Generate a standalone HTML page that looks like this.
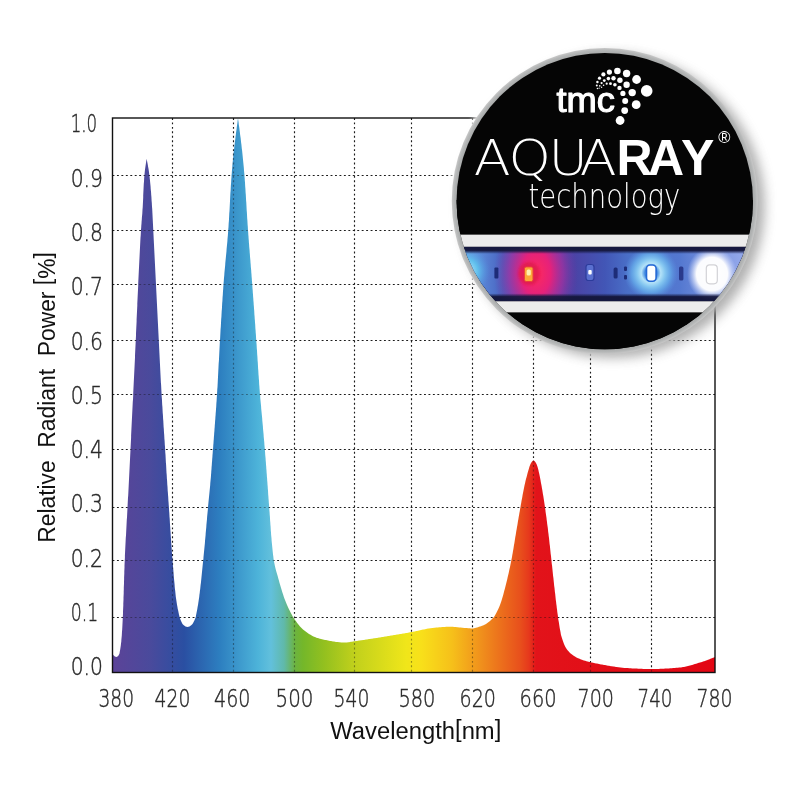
<!DOCTYPE html>
<html lang="en">
<head>
<meta charset="utf-8">
<title>AquaRay technology – spectrum</title>
<style>
html,body{margin:0;padding:0;background:#fff;}
svg{display:block;}
.tick{font-family:"DejaVu Sans Light","DejaVu Sans","Liberation Sans",sans-serif;font-weight:200;font-size:25px;fill:#2a2a2a;stroke:#2a2a2a;stroke-width:0.45px;}
.axl{font-family:"Liberation Sans",sans-serif;font-size:23px;fill:#111;white-space:pre;}
.thin{font-family:"DejaVu Sans Light","DejaVu Sans","Liberation Sans",sans-serif;font-weight:200;fill:#fff;}
.bold{font-family:"Liberation Sans",sans-serif;font-weight:700;fill:#fff;}
</style>
</head>
<body>
<svg width="800" height="800" viewBox="0 0 800 800">
<defs>
<linearGradient id="spec" gradientUnits="userSpaceOnUse" x1="112.5" y1="0" x2="715" y2="0">
<stop offset="0" stop-color="#5c4398"/>
<stop offset="0.0622" stop-color="#4a4a9c"/>
<stop offset="0.1187" stop-color="#2a4fa2"/>
<stop offset="0.1784" stop-color="#2d7fc0"/>
<stop offset="0.2415" stop-color="#4db3d9"/>
<stop offset="0.2630" stop-color="#62c0dc"/>
<stop offset="0.2846" stop-color="#60b9aa"/>
<stop offset="0.3030" stop-color="#6cb340"/>
<stop offset="0.3160" stop-color="#74b72a"/>
<stop offset="0.3510" stop-color="#93c01f"/>
<stop offset="0.4008" stop-color="#c0d01c"/>
<stop offset="0.488" stop-color="#f0e61a"/>
<stop offset="0.512" stop-color="#f8e01a"/>
<stop offset="0.5635" stop-color="#f6c01a"/>
<stop offset="0.6116" stop-color="#f0901c"/>
<stop offset="0.6763" stop-color="#e8501c"/>
<stop offset="0.6913" stop-color="#e6381c"/>
<stop offset="0.7030" stop-color="#e2131a"/>
<stop offset="1" stop-color="#e30613"/>
</linearGradient>
<clipPath id="circ"><circle cx="604.75" cy="201.1" r="148.2"/></clipPath>
<filter id="shadow" x="-20%" y="-20%" width="140%" height="140%"><feGaussianBlur stdDeviation="6"/></filter>
<filter id="b2" x="-50%" y="-50%" width="200%" height="200%"><feGaussianBlur stdDeviation="2"/></filter>
<filter id="b1" x="-50%" y="-50%" width="200%" height="200%"><feGaussianBlur stdDeviation="0.8"/></filter>
<radialGradient id="gRed"><stop offset="0" stop-color="#ff2a5a" stop-opacity="1"/><stop offset="0.35" stop-color="#ee1f78" stop-opacity="0.95"/><stop offset="0.65" stop-color="#b8289c" stop-opacity="0.6"/><stop offset="1" stop-color="#7030a0" stop-opacity="0"/></radialGradient>
<radialGradient id="gCyan"><stop offset="0" stop-color="#e0f6ff" stop-opacity="1"/><stop offset="0.22" stop-color="#3a84e0" stop-opacity="1"/><stop offset="0.36" stop-color="#b4e2f8" stop-opacity="1"/><stop offset="0.52" stop-color="#84c6f0" stop-opacity="1"/><stop offset="0.72" stop-color="#64a8e8" stop-opacity="0.85"/><stop offset="1" stop-color="#5a90e0" stop-opacity="0"/></radialGradient>
<radialGradient id="gWhite"><stop offset="0" stop-color="#ffffff" stop-opacity="1"/><stop offset="0.62" stop-color="#ffffff" stop-opacity="0.97"/><stop offset="1" stop-color="#d0dcff" stop-opacity="0"/></radialGradient>
<radialGradient id="gPale"><stop offset="0" stop-color="#c8f0ff" stop-opacity="1"/><stop offset="0.5" stop-color="#5fc4ee" stop-opacity="0.9"/><stop offset="1" stop-color="#4f90e0" stop-opacity="0"/></radialGradient>
<linearGradient id="strip" gradientUnits="userSpaceOnUse" x1="455" y1="0" x2="755" y2="0">
<stop offset="0" stop-color="#86b8ec"/><stop offset="0.09" stop-color="#5a86d6"/><stop offset="0.16" stop-color="#4862c0"/><stop offset="0.40" stop-color="#4a44a6"/><stop offset="0.50" stop-color="#4256b6"/><stop offset="0.58" stop-color="#4a70c8"/><stop offset="0.75" stop-color="#5478d0"/><stop offset="0.88" stop-color="#8098e2"/><stop offset="1" stop-color="#9cb0ee"/>
</linearGradient>
<radialGradient id="ring" gradientUnits="userSpaceOnUse" cx="604.75" cy="201.1" r="153"><stop offset="0.96" stop-color="#a4a6a6"/><stop offset="0.985" stop-color="#b4b6b6"/><stop offset="1" stop-color="#c8c8c8"/></radialGradient>
<linearGradient id="edgeT" x1="0" y1="0" x2="0" y2="1"><stop offset="0" stop-color="#15183f"/><stop offset="0.55" stop-color="#15183f" stop-opacity="0.9"/><stop offset="1" stop-color="#15183f" stop-opacity="0"/></linearGradient>
<linearGradient id="edgeB" x1="0" y1="1" x2="0" y2="0"><stop offset="0" stop-color="#15183f"/><stop offset="0.6" stop-color="#15183f" stop-opacity="0.9"/><stop offset="1" stop-color="#15183f" stop-opacity="0"/></linearGradient>
<clipPath id="stripclip"><rect x="440" y="247" width="340" height="54.3"/></clipPath>
<clipPath id="fillclip"><use href="#specpath"/></clipPath>
</defs>

<rect width="800" height="800" fill="#ffffff"/>

<!-- grid (under) -->
<g id="grid" stroke="#1c1c1c" stroke-width="1.15" stroke-dasharray="1.9 2.55" fill="none">
<line x1="172.5" y1="118" x2="172.5" y2="672.5"/>
<line x1="233.5" y1="118" x2="233.5" y2="672.5"/>
<line x1="294.5" y1="118" x2="294.5" y2="672.5"/>
<line x1="354.5" y1="118" x2="354.5" y2="672.5"/>
<line x1="411.5" y1="118" x2="411.5" y2="672.5"/>
<line x1="472.5" y1="118" x2="472.5" y2="672.5"/>
<line x1="533.5" y1="118" x2="533.5" y2="672.5"/>
<line x1="590.5" y1="118" x2="590.5" y2="672.5"/>
<line x1="651.5" y1="118" x2="651.5" y2="672.5"/>
<line x1="112.5" y1="175.5" x2="715" y2="175.5"/>
<line x1="112.5" y1="230.5" x2="715" y2="230.5"/>
<line x1="112.5" y1="284.5" x2="715" y2="284.5"/>
<line x1="112.5" y1="340.5" x2="715" y2="340.5"/>
<line x1="112.5" y1="394.5" x2="715" y2="394.5"/>
<line x1="112.5" y1="449.5" x2="715" y2="449.5"/>
<line x1="112.5" y1="507.5" x2="715" y2="507.5"/>
<line x1="112.5" y1="560.5" x2="715" y2="560.5"/>
<line x1="112.5" y1="617.5" x2="715" y2="617.5"/>
</g>
<!-- spectrum fill -->
<path id="specpath" fill="url(#spec)" d="M112.5,672.5 L112.5,654.0 113.5,655.3 114.5,656.2 115.5,656.8 116.5,657.0 117.5,656.5 118.5,655.6 119.5,653.5 119.5,653.5 119.8,651.5 120.2,649.5 120.5,647.5 120.8,645.5 121.0,643.5 121.3,641.5 121.4,639.5 121.6,637.5 121.8,635.5 121.9,633.5 122.0,631.5 122.2,629.5 122.3,627.5 122.4,625.5 122.5,623.5 122.6,621.5 122.7,619.5 122.8,617.5 122.9,615.5 123.0,613.5 123.0,611.5 123.1,609.5 123.2,607.5 123.3,605.5 123.3,603.5 123.4,601.5 123.5,599.5 123.5,597.5 123.6,595.5 123.7,593.5 123.7,591.5 123.8,589.5 123.8,587.5 123.9,585.5 124.0,583.5 124.0,581.5 124.1,579.5 124.1,577.5 124.2,575.5 124.3,573.5 124.3,571.5 124.4,569.5 124.5,567.5 124.5,565.5 124.6,563.5 124.7,561.5 124.8,559.5 124.9,557.5 124.9,555.5 125.0,553.5 125.1,551.5 125.2,549.5 125.3,547.5 125.4,545.5 125.5,543.5 125.6,541.5 125.7,539.5 125.8,537.5 126.0,535.5 126.1,533.5 126.2,531.5 126.3,529.5 126.4,527.5 126.5,525.5 126.6,523.5 126.7,521.5 126.8,519.5 127.0,517.5 127.1,515.5 127.2,513.5 127.3,511.5 127.4,509.5 127.5,507.5 127.6,505.5 127.7,503.5 127.8,501.5 127.9,499.5 128.0,497.5 128.2,495.5 128.3,493.5 128.4,491.5 128.5,489.5 128.6,487.5 128.7,485.5 128.8,483.5 128.9,481.5 129.0,479.5 129.1,477.5 129.2,475.5 129.3,473.5 129.4,471.5 129.5,469.5 129.6,467.5 129.7,465.5 129.8,463.5 129.9,461.5 130.0,459.5 130.1,457.5 130.2,455.5 130.3,453.5 130.4,451.5 130.5,449.5 130.6,447.5 130.7,445.5 130.8,443.5 130.9,441.5 131.0,439.5 131.1,437.5 131.1,435.5 131.2,433.5 131.3,431.5 131.4,429.5 131.5,427.5 131.6,425.5 131.7,423.5 131.8,421.5 131.9,419.5 132.0,417.5 132.1,415.5 132.2,413.5 132.3,411.5 132.4,409.5 132.5,407.5 132.6,405.5 132.7,403.5 132.8,401.5 133.0,399.5 133.1,397.5 133.2,395.5 133.2,393.5 133.3,391.5 133.4,389.5 133.5,387.5 133.6,385.5 133.7,383.5 133.8,381.5 133.9,379.5 134.0,377.5 134.1,375.5 134.2,373.5 134.3,371.5 134.4,369.5 134.5,367.5 134.6,365.5 134.7,363.5 134.8,361.5 134.9,359.5 135.0,357.5 135.0,355.5 135.1,353.5 135.2,351.5 135.3,349.5 135.4,347.5 135.5,345.5 135.6,343.5 135.7,341.5 135.8,339.5 135.9,337.5 136.0,335.5 136.0,333.5 136.1,331.5 136.2,329.5 136.3,327.5 136.4,325.5 136.5,323.5 136.6,321.5 136.6,319.5 136.7,317.5 136.8,315.5 136.9,313.5 137.0,311.5 137.1,309.5 137.2,307.5 137.3,305.5 137.3,303.5 137.4,301.5 137.5,299.5 137.6,297.5 137.7,295.5 137.8,293.5 137.9,291.5 138.0,289.5 138.1,287.5 138.2,285.5 138.2,283.5 138.3,281.5 138.4,279.5 138.5,277.5 138.6,275.5 138.7,273.5 138.8,271.5 138.9,269.5 139.0,267.5 139.1,265.5 139.2,263.5 139.3,261.5 139.4,259.5 139.5,257.5 139.6,255.5 139.7,253.5 139.8,251.5 139.9,249.5 140.0,247.5 140.1,245.5 140.2,243.5 140.3,241.5 140.4,239.5 140.5,237.5 140.7,235.5 140.8,233.5 140.9,231.5 141.0,229.5 141.2,227.5 141.3,225.5 141.5,223.5 141.6,221.5 141.8,219.5 141.9,217.5 142.1,215.5 142.3,213.5 142.4,211.5 142.5,209.5 142.7,207.5 142.8,205.5 142.9,203.5 143.0,201.5 143.1,199.5 143.2,197.5 143.2,195.5 143.3,193.5 143.4,191.5 143.5,189.5 143.6,187.5 143.7,185.5 143.8,183.5 144.0,181.5 144.1,179.5 144.2,177.5 144.4,175.5 144.6,173.5 144.8,171.5 145.0,169.5 145.3,167.5 145.6,165.5 145.9,163.5 146.2,161.5 146.5,159.5 146.6,158.8 146.6,158.8 147.0,160.8 147.4,162.8 147.8,164.8 148.1,166.8 148.5,168.8 148.8,170.8 149.1,172.8 149.3,174.8 149.6,176.8 149.8,178.8 150.0,180.8 150.2,182.8 150.4,184.8 150.6,186.8 150.7,188.8 150.9,190.8 151.1,192.8 151.2,194.8 151.4,196.8 151.5,198.8 151.6,200.8 151.8,202.8 151.9,204.8 152.0,206.8 152.2,208.8 152.3,210.8 152.4,212.8 152.5,214.8 152.6,216.8 152.7,218.8 152.8,220.8 152.9,222.8 153.0,224.8 153.1,226.8 153.2,228.8 153.3,230.8 153.4,232.8 153.5,234.8 153.6,236.8 153.7,238.8 153.8,240.8 153.9,242.8 154.0,244.8 154.1,246.8 154.2,248.8 154.3,250.8 154.4,252.8 154.5,254.8 154.6,256.8 154.7,258.8 154.8,260.8 154.9,262.8 155.0,264.8 155.1,266.8 155.2,268.8 155.3,270.8 155.4,272.8 155.5,274.8 155.6,276.8 155.7,278.8 155.8,280.8 155.9,282.8 156.0,284.8 156.1,286.8 156.2,288.8 156.3,290.8 156.4,292.8 156.5,294.8 156.6,296.8 156.7,298.8 156.8,300.8 156.9,302.8 157.0,304.8 157.1,306.8 157.2,308.8 157.3,310.8 157.4,312.8 157.5,314.8 157.6,316.8 157.7,318.8 157.8,320.8 157.9,322.8 158.0,324.8 158.1,326.8 158.2,328.8 158.3,330.8 158.4,332.8 158.5,334.8 158.6,336.8 158.7,338.8 158.8,340.8 158.9,342.8 159.0,344.8 159.1,346.8 159.2,348.8 159.3,350.8 159.4,352.8 159.5,354.8 159.6,356.8 159.7,358.8 159.8,360.8 159.9,362.8 160.0,364.8 160.1,366.8 160.2,368.8 160.3,370.8 160.4,372.8 160.5,374.8 160.6,376.8 160.7,378.8 160.8,380.8 160.9,382.8 161.1,384.8 161.2,386.8 161.3,388.8 161.4,390.8 161.5,392.8 161.6,394.8 161.7,396.8 161.9,398.8 162.0,400.8 162.1,402.8 162.2,404.8 162.4,406.8 162.5,408.8 162.6,410.8 162.7,412.8 162.9,414.8 163.0,416.8 163.1,418.8 163.3,420.8 163.4,422.8 163.5,424.8 163.6,426.8 163.8,428.8 163.9,430.8 164.0,432.8 164.2,434.8 164.3,436.8 164.4,438.8 164.6,440.8 164.7,442.8 164.8,444.8 165.0,446.8 165.1,448.8 165.2,450.8 165.3,452.8 165.5,454.8 165.6,456.8 165.7,458.8 165.8,460.8 165.9,462.8 166.1,464.8 166.2,466.8 166.3,468.8 166.4,470.8 166.5,472.8 166.7,474.8 166.8,476.8 166.9,478.8 167.1,480.8 167.2,482.8 167.3,484.8 167.5,486.8 167.6,488.8 167.7,490.8 167.9,492.8 168.0,494.8 168.2,496.8 168.3,498.8 168.4,500.8 168.6,502.8 168.7,504.8 168.9,506.8 169.0,508.8 169.1,510.8 169.3,512.8 169.4,514.8 169.5,516.8 169.7,518.8 169.8,520.8 169.9,522.8 170.0,524.8 170.2,526.8 170.3,528.8 170.4,530.8 170.6,532.8 170.7,534.8 170.8,536.8 171.0,538.8 171.1,540.8 171.2,542.8 171.4,544.8 171.5,546.8 171.7,548.8 171.8,550.8 171.9,552.8 172.1,554.8 172.2,556.8 172.4,558.8 172.6,560.8 172.7,562.8 172.9,564.8 173.0,566.8 173.2,568.8 173.4,570.8 173.5,572.8 173.7,574.8 173.8,576.8 174.0,578.8 174.2,580.8 174.4,582.8 174.6,584.8 174.7,586.8 174.9,588.8 175.2,590.8 175.4,592.8 175.6,594.8 175.8,596.8 176.1,598.8 176.4,600.8 176.7,602.8 177.0,604.8 177.4,606.8 177.7,608.8 178.2,610.8 178.6,612.8 179.0,614.8 179.5,616.8 179.5,617.0 179.5,617.0 180.5,619.7 181.5,622.1 182.5,623.9 183.5,624.9 184.5,625.8 185.5,626.4 186.5,626.8 187.5,627.0 188.5,626.8 189.5,626.4 190.5,625.7 191.5,624.9 192.5,624.0 193.5,622.3 194.5,620.2 195.5,617.7 195.8,617.0 195.8,617.0 196.1,615.0 196.5,613.0 196.9,611.0 197.3,609.0 197.6,607.0 198.0,605.0 198.3,603.0 198.6,601.0 198.9,599.0 199.2,597.0 199.4,595.0 199.7,593.0 199.9,591.0 200.2,589.0 200.4,587.0 200.6,585.0 200.9,583.0 201.1,581.0 201.3,579.0 201.5,577.0 201.7,575.0 201.9,573.0 202.1,571.0 202.3,569.0 202.5,567.0 202.7,565.0 202.9,563.0 203.1,561.0 203.4,559.0 203.5,557.0 203.7,555.0 203.9,553.0 204.1,551.0 204.3,549.0 204.5,547.0 204.7,545.0 204.9,543.0 205.0,541.0 205.2,539.0 205.4,537.0 205.6,535.0 205.7,533.0 205.9,531.0 206.1,529.0 206.3,527.0 206.4,525.0 206.6,523.0 206.8,521.0 207.0,519.0 207.1,517.0 207.3,515.0 207.5,513.0 207.7,511.0 207.9,509.0 208.0,507.0 208.2,505.0 208.4,503.0 208.6,501.0 208.8,499.0 209.0,497.0 209.2,495.0 209.4,493.0 209.6,491.0 209.8,489.0 210.0,487.0 210.2,485.0 210.3,483.0 210.5,481.0 210.7,479.0 210.9,477.0 211.0,475.0 211.2,473.0 211.3,471.0 211.5,469.0 211.6,467.0 211.8,465.0 211.9,463.0 212.1,461.0 212.2,459.0 212.4,457.0 212.5,455.0 212.7,453.0 212.8,451.0 213.0,449.0 213.2,447.0 213.3,445.0 213.5,443.0 213.6,441.0 213.8,439.0 213.9,437.0 214.1,435.0 214.2,433.0 214.4,431.0 214.5,429.0 214.7,427.0 214.8,425.0 215.0,423.0 215.1,421.0 215.3,419.0 215.4,417.0 215.6,415.0 215.7,413.0 215.9,411.0 216.0,409.0 216.2,407.0 216.3,405.0 216.4,403.0 216.6,401.0 216.7,399.0 216.8,397.0 217.0,395.0 217.1,393.0 217.2,391.0 217.3,389.0 217.5,387.0 217.6,385.0 217.7,383.0 217.8,381.0 217.9,379.0 218.0,377.0 218.1,375.0 218.2,373.0 218.3,371.0 218.4,369.0 218.5,367.0 218.6,365.0 218.7,363.0 218.9,361.0 219.0,359.0 219.1,357.0 219.2,355.0 219.3,353.0 219.4,351.0 219.5,349.0 219.6,347.0 219.7,345.0 219.8,343.0 219.9,341.0 220.1,339.0 220.2,337.0 220.3,335.0 220.4,333.0 220.5,331.0 220.6,329.0 220.8,327.0 220.9,325.0 221.0,323.0 221.1,321.0 221.2,319.0 221.4,317.0 221.5,315.0 221.6,313.0 221.7,311.0 221.9,309.0 222.0,307.0 222.1,305.0 222.2,303.0 222.4,301.0 222.5,299.0 222.6,297.0 222.8,295.0 222.9,293.0 223.0,291.0 223.2,289.0 223.3,287.0 223.5,285.0 223.6,283.0 223.8,281.0 223.9,279.0 224.1,277.0 224.3,275.0 224.4,273.0 224.6,271.0 224.8,269.0 225.0,267.0 225.2,265.0 225.3,263.0 225.5,261.0 225.7,259.0 225.9,257.0 226.1,255.0 226.3,253.0 226.5,251.0 226.6,249.0 226.8,247.0 227.0,245.0 227.2,243.0 227.4,241.0 227.5,239.0 227.7,237.0 227.9,235.0 228.0,233.0 228.2,231.0 228.3,229.0 228.5,227.0 228.6,225.0 228.7,223.0 228.9,221.0 229.0,219.0 229.1,217.0 229.2,215.0 229.3,213.0 229.5,211.0 229.6,209.0 229.7,207.0 229.8,205.0 229.9,203.0 230.0,201.0 230.1,199.0 230.2,197.0 230.3,195.0 230.4,193.0 230.6,191.0 230.7,189.0 230.8,187.0 230.9,185.0 231.1,183.0 231.2,181.0 231.3,179.0 231.5,177.0 231.6,175.0 231.8,173.0 231.9,171.0 232.1,169.0 232.3,167.0 232.4,165.0 232.6,163.0 232.8,161.0 233.0,159.0 233.2,157.0 233.4,155.0 233.6,153.0 233.8,151.0 234.1,149.0 234.3,147.0 234.5,145.0 234.8,143.0 235.0,141.0 235.3,139.0 235.5,137.0 235.8,135.0 236.0,133.0 236.3,131.0 236.6,129.0 236.8,127.0 237.1,125.0 237.4,123.0 237.6,121.0 237.9,119.0 238.0,118.5 238.0,118.5 238.3,120.5 238.6,122.5 238.8,124.5 239.1,126.5 239.4,128.5 239.6,130.5 239.9,132.5 240.1,134.5 240.4,136.5 240.7,138.5 240.9,140.5 241.1,142.5 241.4,144.5 241.6,146.5 241.8,148.5 242.1,150.5 242.3,152.5 242.5,154.5 242.7,156.5 242.9,158.5 243.1,160.5 243.3,162.5 243.5,164.5 243.7,166.5 243.9,168.5 244.0,170.5 244.2,172.5 244.4,174.5 244.5,176.5 244.7,178.5 244.8,180.5 245.0,182.5 245.1,184.5 245.2,186.5 245.4,188.5 245.5,190.5 245.6,192.5 245.8,194.5 245.9,196.5 246.0,198.5 246.1,200.5 246.3,202.5 246.4,204.5 246.5,206.5 246.6,208.5 246.7,210.5 246.9,212.5 247.0,214.5 247.1,216.5 247.2,218.5 247.4,220.5 247.5,222.5 247.6,224.5 247.8,226.5 247.9,228.5 248.0,230.5 248.2,232.5 248.3,234.5 248.5,236.5 248.6,238.5 248.8,240.5 248.9,242.5 249.1,244.5 249.2,246.5 249.4,248.5 249.6,250.5 249.7,252.5 249.9,254.5 250.0,256.5 250.2,258.5 250.4,260.5 250.5,262.5 250.7,264.5 250.8,266.5 251.0,268.5 251.2,270.5 251.3,272.5 251.5,274.5 251.6,276.5 251.8,278.5 251.9,280.5 252.1,282.5 252.2,284.5 252.4,286.5 252.5,288.5 252.7,290.5 252.8,292.5 253.0,294.5 253.1,296.5 253.3,298.5 253.4,300.5 253.6,302.5 253.7,304.5 253.9,306.5 254.0,308.5 254.2,310.5 254.3,312.5 254.4,314.5 254.6,316.5 254.7,318.5 254.9,320.5 255.0,322.5 255.2,324.5 255.3,326.5 255.4,328.5 255.6,330.5 255.7,332.5 255.9,334.5 256.0,336.5 256.1,338.5 256.3,340.5 256.4,342.5 256.6,344.5 256.7,346.5 256.8,348.5 257.0,350.5 257.1,352.5 257.2,354.5 257.4,356.5 257.5,358.5 257.6,360.5 257.8,362.5 257.9,364.5 258.0,366.5 258.1,368.5 258.3,370.5 258.4,372.5 258.5,374.5 258.7,376.5 258.8,378.5 259.0,380.5 259.1,382.5 259.2,384.5 259.4,386.5 259.5,388.5 259.7,390.5 259.8,392.5 260.0,394.5 260.2,396.5 260.3,398.5 260.5,400.5 260.7,402.5 260.9,404.5 261.1,406.5 261.2,408.5 261.4,410.5 261.6,412.5 261.8,414.5 262.0,416.5 262.2,418.5 262.3,420.5 262.5,422.5 262.7,424.5 262.9,426.5 263.0,428.5 263.2,430.5 263.4,432.5 263.6,434.5 263.7,436.5 263.9,438.5 264.1,440.5 264.3,442.5 264.4,444.5 264.6,446.5 264.8,448.5 264.9,450.5 265.1,452.5 265.2,454.5 265.4,456.5 265.6,458.5 265.7,460.5 265.9,462.5 266.0,464.5 266.2,466.5 266.3,468.5 266.5,470.5 266.6,472.5 266.8,474.5 266.9,476.5 267.1,478.5 267.2,480.5 267.4,482.5 267.5,484.5 267.7,486.5 267.8,488.5 268.0,490.5 268.1,492.5 268.2,494.5 268.4,496.5 268.5,498.5 268.7,500.5 268.8,502.5 269.0,504.5 269.1,506.5 269.3,508.5 269.4,510.5 269.6,512.5 269.7,514.5 269.9,516.5 270.0,518.5 270.1,520.5 270.3,522.5 270.4,524.5 270.6,526.5 270.7,528.5 270.8,530.5 271.0,532.5 271.1,534.5 271.3,536.5 271.5,538.5 271.6,540.5 271.8,542.5 272.0,544.5 272.2,546.5 272.4,548.5 272.6,550.5 272.8,552.5 273.0,554.5 273.3,556.5 273.5,558.5 273.8,560.5 274.2,562.5 274.6,564.5 275.0,566.5 275.5,568.5 276.0,570.5 276.6,572.5 277.2,574.5 277.8,576.5 278.3,578.5 278.9,580.5 279.4,582.5 280.0,584.5 280.6,586.5 281.2,588.5 281.8,590.5 282.4,592.5 283.1,594.5 283.7,596.5 284.4,598.5 285.2,600.5 286.0,602.5 286.8,604.5 287.7,606.5 288.6,608.5 289.6,610.5 290.6,612.5 291.7,614.5 292.7,616.5 293.0,617.0 293.0,617.0 294.0,618.5 295.0,619.9 296.0,621.3 297.0,622.7 298.0,624.0 299.0,625.2 300.0,626.4 301.0,627.4 302.0,628.5 303.0,629.4 304.0,630.2 305.0,631.0 306.0,631.7 307.0,632.5 308.0,633.2 309.0,633.9 310.0,634.5 311.0,635.1 312.0,635.7 313.0,636.2 314.0,636.7 315.0,637.1 316.0,637.5 317.0,637.9 318.0,638.1 319.0,638.4 320.0,638.7 321.0,638.9 322.0,639.2 323.0,639.4 324.0,639.7 325.0,639.9 326.0,640.1 327.0,640.3 328.0,640.6 329.0,640.8 330.0,641.0 331.0,641.1 332.0,641.3 333.0,641.5 334.0,641.6 335.0,641.8 336.0,641.9 337.0,642.0 338.0,642.1 339.0,642.2 340.0,642.3 341.0,642.4 342.0,642.4 343.0,642.5 344.0,642.5 345.0,642.5 346.0,642.5 347.0,642.4 348.0,642.3 349.0,642.2 350.0,642.0 351.0,641.8 352.0,641.7 353.0,641.5 354.0,641.3 355.0,641.2 356.0,641.0 357.0,640.9 358.0,640.8 359.0,640.6 360.0,640.5 361.0,640.3 362.0,640.2 363.0,640.0 364.0,639.9 365.0,639.7 366.0,639.6 367.0,639.4 368.0,639.3 369.0,639.1 370.0,639.0 371.0,638.8 372.0,638.7 373.0,638.5 374.0,638.3 375.0,638.2 376.0,638.0 377.0,637.9 378.0,637.7 379.0,637.6 380.0,637.4 381.0,637.2 382.0,637.1 383.0,636.9 384.0,636.8 385.0,636.6 386.0,636.4 387.0,636.3 388.0,636.1 389.0,635.9 390.0,635.8 391.0,635.6 392.0,635.4 393.0,635.3 394.0,635.1 395.0,634.9 396.0,634.8 397.0,634.6 398.0,634.4 399.0,634.3 400.0,634.1 401.0,633.9 402.0,633.7 403.0,633.6 404.0,633.4 405.0,633.2 406.0,633.0 407.0,632.9 408.0,632.7 409.0,632.5 410.0,632.3 411.0,632.1 412.0,632.0 413.0,631.8 414.0,631.6 415.0,631.4 416.0,631.1 417.0,630.9 418.0,630.7 419.0,630.5 420.0,630.3 421.0,630.0 422.0,629.8 423.0,629.6 424.0,629.4 425.0,629.2 426.0,629.0 427.0,628.8 428.0,628.6 429.0,628.5 430.0,628.3 431.0,628.2 432.0,628.1 433.0,627.9 434.0,627.8 435.0,627.7 436.0,627.6 437.0,627.5 438.0,627.4 439.0,627.3 440.0,627.3 441.0,627.2 442.0,627.1 443.0,627.0 444.0,627.0 445.0,626.9 446.0,626.8 447.0,626.8 448.0,626.8 449.0,626.8 450.0,626.8 451.0,626.8 452.0,626.8 453.0,626.8 454.0,626.9 455.0,627.0 456.0,627.1 457.0,627.2 458.0,627.3 459.0,627.4 460.0,627.5 461.0,627.6 462.0,627.7 463.0,627.8 464.0,627.9 465.0,628.0 466.0,628.1 467.0,628.1 468.0,628.2 469.0,628.3 470.0,628.3 471.0,628.4 472.0,628.4 473.0,628.4 474.0,628.3 475.0,628.1 476.0,627.8 477.0,627.5 478.0,627.2 479.0,626.8 480.0,626.5 481.0,626.2 482.0,625.8 483.0,625.4 484.0,625.0 485.0,624.5 486.0,623.9 487.0,623.3 488.0,622.6 489.0,621.8 490.0,621.0 491.0,620.1 492.0,619.1 493.0,618.1 494.0,617.0 494.0,617.0 495.2,615.0 496.3,613.0 497.3,611.0 498.3,609.0 499.2,607.0 500.0,605.0 500.7,603.0 501.4,601.0 502.0,599.0 502.6,597.0 503.2,595.0 503.7,593.0 504.2,591.0 504.8,589.0 505.3,587.0 505.8,585.0 506.3,583.0 506.8,581.0 507.3,579.0 507.7,577.0 508.2,575.0 508.7,573.0 509.1,571.0 509.5,569.0 510.0,567.0 510.4,565.0 510.8,563.0 511.2,561.0 511.6,559.0 512.0,557.0 512.3,555.0 512.7,553.0 513.0,551.0 513.4,549.0 513.7,547.0 514.0,545.0 514.4,543.0 514.7,541.0 515.0,539.0 515.3,537.0 515.7,535.0 516.0,533.0 516.3,531.0 516.7,529.0 517.0,527.0 517.4,525.0 517.7,523.0 518.0,521.0 518.4,519.0 518.7,517.0 519.1,515.0 519.4,513.0 519.8,511.0 520.1,509.0 520.5,507.0 520.8,505.0 521.2,503.0 521.5,501.0 521.9,499.0 522.3,497.0 522.6,495.0 523.0,493.0 523.4,491.0 523.8,489.0 524.2,487.0 524.6,485.0 525.1,483.0 525.5,481.0 526.0,479.0 526.6,477.0 527.1,475.0 527.6,473.0 528.2,471.0 528.5,470.0 528.5,470.0 529.5,466.6 530.5,463.9 531.5,462.3 532.5,461.0 533.5,460.4 534.5,460.9 535.5,462.2 536.5,464.0 537.5,466.8 538.4,470.0 538.4,470.0 538.8,472.0 539.3,474.0 539.7,476.0 540.1,478.0 540.5,480.0 540.8,482.0 541.2,484.0 541.6,486.0 541.9,488.0 542.3,490.0 542.6,492.0 542.9,494.0 543.3,496.0 543.6,498.0 543.9,500.0 544.2,502.0 544.5,504.0 544.8,506.0 545.1,508.0 545.4,510.0 545.6,512.0 545.9,514.0 546.2,516.0 546.5,518.0 546.7,520.0 547.0,522.0 547.2,524.0 547.5,526.0 547.8,528.0 548.0,530.0 548.2,532.0 548.5,534.0 548.7,536.0 549.0,538.0 549.2,540.0 549.4,542.0 549.6,544.0 549.9,546.0 550.1,548.0 550.3,550.0 550.5,552.0 550.7,554.0 551.0,556.0 551.2,558.0 551.4,560.0 551.6,562.0 551.8,564.0 552.1,566.0 552.3,568.0 552.5,570.0 552.7,572.0 552.9,574.0 553.1,576.0 553.4,578.0 553.6,580.0 553.8,582.0 554.0,584.0 554.2,586.0 554.5,588.0 554.7,590.0 554.9,592.0 555.2,594.0 555.4,596.0 555.6,598.0 555.8,600.0 556.1,602.0 556.3,604.0 556.6,606.0 556.8,608.0 557.1,610.0 557.3,612.0 557.6,614.0 557.9,616.0 558.1,618.0 558.4,620.0 558.8,622.0 559.1,624.0 559.4,626.0 559.7,628.0 560.1,630.0 560.5,632.0 560.8,634.0 561.0,635.0 561.0,635.0 562.0,638.2 563.0,641.2 564.0,643.9 565.0,646.2 566.0,648.0 567.0,649.4 568.0,650.7 569.0,651.8 570.0,652.9 571.0,653.8 572.0,654.6 573.0,655.3 574.0,656.0 575.0,656.6 576.0,657.2 577.0,657.7 578.0,658.2 579.0,658.6 580.0,659.1 581.0,659.5 582.0,659.8 583.0,660.2 584.0,660.5 585.0,660.8 586.0,661.1 587.0,661.4 588.0,661.6 589.0,661.9 590.0,662.1 591.0,662.4 592.0,662.6 593.0,662.8 594.0,663.0 595.0,663.2 596.0,663.4 597.0,663.6 598.0,663.8 599.0,664.0 600.0,664.2 601.0,664.4 602.0,664.6 603.0,664.7 604.0,664.9 605.0,665.1 606.0,665.3 607.0,665.5 608.0,665.7 609.0,665.8 610.0,666.0 611.0,666.2 612.0,666.3 613.0,666.5 614.0,666.6 615.0,666.8 616.0,666.9 617.0,667.1 618.0,667.2 619.0,667.3 620.0,667.5 621.0,667.6 622.0,667.7 623.0,667.8 624.0,667.9 625.0,667.9 626.0,668.0 627.0,668.1 628.0,668.1 629.0,668.2 630.0,668.2 631.0,668.3 632.0,668.4 633.0,668.4 634.0,668.5 635.0,668.5 636.0,668.6 637.0,668.6 638.0,668.7 639.0,668.7 640.0,668.8 641.0,668.8 642.0,668.8 643.0,668.9 644.0,668.9 645.0,668.9 646.0,668.9 647.0,669.0 648.0,669.0 649.0,669.0 650.0,669.0 651.0,669.0 652.0,669.0 653.0,669.0 654.0,669.0 655.0,669.0 656.0,668.9 657.0,668.9 658.0,668.9 659.0,668.9 660.0,668.8 661.0,668.8 662.0,668.7 663.0,668.7 664.0,668.7 665.0,668.6 666.0,668.5 667.0,668.5 668.0,668.4 669.0,668.4 670.0,668.3 671.0,668.2 672.0,668.2 673.0,668.1 674.0,668.0 675.0,667.9 676.0,667.8 677.0,667.8 678.0,667.7 679.0,667.6 680.0,667.5 681.0,667.4 682.0,667.3 683.0,667.1 684.0,666.9 685.0,666.7 686.0,666.5 687.0,666.3 688.0,666.1 689.0,665.8 690.0,665.5 691.0,665.2 692.0,665.0 693.0,664.7 694.0,664.3 695.0,664.0 696.0,663.7 697.0,663.4 698.0,663.1 699.0,662.8 700.0,662.5 701.0,662.2 702.0,661.9 703.0,661.6 704.0,661.2 705.0,660.9 706.0,660.5 707.0,660.2 708.0,659.8 709.0,659.4 710.0,659.0 711.0,658.6 712.0,658.2 713.0,657.8 714.0,657.4 715.0,657.0 L715,672.5 Z"/>
<!-- grid faintly visible over the fill -->
<g clip-path="url(#fillclip)" opacity="0.4">
<g stroke="#101010" stroke-width="1.15" stroke-dasharray="1.9 2.55" fill="none"><line x1="172.5" y1="118" x2="172.5" y2="672.5"/>
<line x1="233.5" y1="118" x2="233.5" y2="672.5"/>
<line x1="294.5" y1="118" x2="294.5" y2="672.5"/>
<line x1="354.5" y1="118" x2="354.5" y2="672.5"/>
<line x1="411.5" y1="118" x2="411.5" y2="672.5"/>
<line x1="472.5" y1="118" x2="472.5" y2="672.5"/>
<line x1="533.5" y1="118" x2="533.5" y2="672.5"/>
<line x1="590.5" y1="118" x2="590.5" y2="672.5"/>
<line x1="651.5" y1="118" x2="651.5" y2="672.5"/>
<line x1="112.5" y1="175.5" x2="715" y2="175.5"/>
<line x1="112.5" y1="230.5" x2="715" y2="230.5"/>
<line x1="112.5" y1="284.5" x2="715" y2="284.5"/>
<line x1="112.5" y1="340.5" x2="715" y2="340.5"/>
<line x1="112.5" y1="394.5" x2="715" y2="394.5"/>
<line x1="112.5" y1="449.5" x2="715" y2="449.5"/>
<line x1="112.5" y1="507.5" x2="715" y2="507.5"/>
<line x1="112.5" y1="560.5" x2="715" y2="560.5"/>
<line x1="112.5" y1="617.5" x2="715" y2="617.5"/></g>
</g>
<rect x="112.5" y="118" width="602.5" height="554.5" fill="none" stroke="#111" stroke-width="1.4"/>

<!-- y tick labels -->
<g class="tick">
<text x="70.7" y="132.00" textLength="26.5" lengthAdjust="spacingAndGlyphs">1.0</text>
<text x="70.7" y="186.75" textLength="32.3" lengthAdjust="spacingAndGlyphs">0.9</text>
<text x="70.7" y="241.00" textLength="32.3" lengthAdjust="spacingAndGlyphs">0.8</text>
<text x="70.7" y="295.25" textLength="32.3" lengthAdjust="spacingAndGlyphs">0.7</text>
<text x="70.7" y="349.50" textLength="32.3" lengthAdjust="spacingAndGlyphs">0.6</text>
<text x="70.7" y="403.75" textLength="32.3" lengthAdjust="spacingAndGlyphs">0.5</text>
<text x="70.7" y="458.00" textLength="32.3" lengthAdjust="spacingAndGlyphs">0.4</text>
<text x="70.7" y="512.25" textLength="32.3" lengthAdjust="spacingAndGlyphs">0.3</text>
<text x="70.7" y="566.50" textLength="32.3" lengthAdjust="spacingAndGlyphs">0.2</text>
<text x="70.7" y="620.75" textLength="27.5" lengthAdjust="spacingAndGlyphs">0.1</text>
<text x="70.7" y="675.00" textLength="32.3" lengthAdjust="spacingAndGlyphs">0.0</text>
</g>
<!-- x tick labels -->
<g class="tick" text-anchor="middle">
<text x="116.25" y="707.3" textLength="35.5" lengthAdjust="spacingAndGlyphs">380</text>
<text x="172.5" y="707.3" textLength="35.8" lengthAdjust="spacingAndGlyphs">420</text>
<text x="232.2" y="707.3" textLength="36.4" lengthAdjust="spacingAndGlyphs">460</text>
<text x="294.45" y="707.3" textLength="37.9" lengthAdjust="spacingAndGlyphs">500</text>
<text x="351.5" y="707.3" textLength="35.8" lengthAdjust="spacingAndGlyphs">540</text>
<text x="416.9" y="707.3" textLength="37.0" lengthAdjust="spacingAndGlyphs">580</text>
<text x="477.8" y="707.3" textLength="36.4" lengthAdjust="spacingAndGlyphs">620</text>
<text x="538.1" y="707.3" textLength="37.0" lengthAdjust="spacingAndGlyphs">660</text>
<text x="595.8" y="707.3" textLength="36.4" lengthAdjust="spacingAndGlyphs">700</text>
<text x="655" y="707.3" textLength="34.9" lengthAdjust="spacingAndGlyphs">740</text>
<text x="714.5" y="707.3" textLength="36.0" lengthAdjust="spacingAndGlyphs">780</text>
</g>

<text class="axl" transform="translate(55.25,542.8) rotate(-90)" textLength="290.6" lengthAdjust="spacingAndGlyphs" xml:space="preserve">Relative  Radiant  Power <tspan dy="-4">[</tspan><tspan dy="4">%</tspan><tspan dy="-4">]</tspan></text>
<text class="axl" x="330.3" y="738.5" textLength="171" lengthAdjust="spacingAndGlyphs">Wavelength<tspan dy="-1.5">[</tspan><tspan dy="1.5">nm</tspan><tspan dy="-1.5">]</tspan></text>

<!-- badge -->
<circle cx="604.75" cy="201.1" r="155.5" fill="#fff" opacity="0.85" filter="url(#b2)"/>
<circle cx="612.75" cy="206.1" r="152" fill="#777" opacity="0.58" filter="url(#shadow)"/>
<circle cx="604.75" cy="201.1" r="153" fill="url(#ring)"/>
<circle cx="604.75" cy="201.1" r="148.2" fill="#050505"/>
<g clip-path="url(#circ)">
  <rect x="440" y="234.4" width="340" height="12.5" fill="#ececec"/>
  <rect x="440" y="246.9" width="340" height="54.4" fill="#15183f"/>
  <rect x="440" y="250.5" width="340" height="46" fill="url(#strip)"/>
  <!-- glows -->
  <g clip-path="url(#stripclip)">
    <ellipse cx="466" cy="271" rx="24" ry="24" fill="url(#gPale)"/>
    <ellipse cx="536" cy="273.5" rx="42" ry="62" fill="url(#gRed)"/>
    <ellipse cx="529" cy="273.5" rx="10.5" ry="11.5" fill="#e01c50" opacity="0.85" filter="url(#b1)"/>
    <ellipse cx="651" cy="273" rx="27" ry="27" fill="url(#gCyan)"/>
    <ellipse cx="712" cy="274" rx="25" ry="27" fill="url(#gWhite)"/>
  </g>
  <!-- strip edge shading -->
  <rect x="440" y="246.9" width="340" height="7" fill="url(#edgeT)"/>
  <rect x="440" y="293.3" width="340" height="8" fill="url(#edgeB)"/>
  <rect x="440" y="301.3" width="340" height="11.3" fill="#ececec"/>
  <rect x="440" y="312.6" width="340" height="60" fill="#050505"/>
  <rect x="440" y="200" width="340" height="34.4" fill="#050505"/>
  <!-- components -->
  <rect x="494.4" y="267.5" width="4" height="11" rx="1" fill="#1d2c78"/>
  <rect x="524.4" y="266.9" width="8.6" height="14.6" rx="1.8" fill="#fca838" stroke="#e8403a" stroke-width="1"/>
  <rect x="526.6" y="269.5" width="4.2" height="6" rx="1.5" fill="#fff0b0"/>
  <rect x="586" y="264.5" width="8" height="16" rx="2.5" fill="#5a70d0" stroke="#2c3c9c" stroke-width="1.2"/>
  <rect x="588.3" y="270" width="3.4" height="4.5" rx="1" fill="#ffffff"/>
  <rect x="613.6" y="267.5" width="4" height="11" rx="1.5" fill="#1d2c78"/>
  <rect x="624" y="266.5" width="3" height="4.5" rx="1" fill="#1d2c78"/>
  <rect x="624" y="275" width="3" height="4.5" rx="1" fill="#1d2c78"/>
  <rect x="646.5" y="265" width="9.6" height="16.2" rx="3.5" fill="#ffffff" stroke="#2468d4" stroke-width="1.6"/>
  <rect x="679" y="266.5" width="4.4" height="14" rx="1.5" fill="#2a3a8c"/>
  <rect x="706.3" y="264.8" width="11" height="19" rx="3.5" fill="#ffffff" stroke="#d2d2d6" stroke-width="1.2"/>
</g>

<!-- tmc logo -->
<text class="bold" style="font-weight:400" stroke="#fff" stroke-width="1.1" stroke-linejoin="round" stroke-linecap="round" x="556.4" y="112" font-size="34.5" textLength="58.5" lengthAdjust="spacingAndGlyphs">tmc</text>
<g fill="#fff">
<circle cx="646.7" cy="90.9" r="5.8"/>
<circle cx="636.6" cy="79.5" r="4.4"/>
<circle cx="626.6" cy="73.5" r="3.7"/>
<circle cx="617.4" cy="71" r="3.3"/>
<circle cx="609.4" cy="72.1" r="2.6"/>
<circle cx="603.4" cy="74.4" r="2.1"/>
<circle cx="599.5" cy="78.2" r="1.6"/>
<circle cx="597.4" cy="82" r="1.2"/>
<circle cx="596.8" cy="85.4" r="1"/>
<circle cx="597.4" cy="88.5" r="0.7"/>
<circle cx="636.2" cy="104.7" r="4.4"/>
<circle cx="632.2" cy="92.6" r="3.7"/>
<circle cx="626.6" cy="84.8" r="3.2"/>
<circle cx="619.9" cy="80.2" r="2.7"/>
<circle cx="613.5" cy="78.2" r="2.2"/>
<circle cx="608.4" cy="78.6" r="1.8"/>
<circle cx="604.3" cy="80.6" r="1.4"/>
<circle cx="601.6" cy="83.1" r="1.1"/>
<circle cx="599.8" cy="85.9" r="0.8"/>
<circle cx="599.1" cy="88.2" r="0.6"/>
<circle cx="620.1" cy="120.5" r="4.4"/>
<circle cx="624.7" cy="110.6" r="3.4"/>
<circle cx="625.2" cy="101" r="3"/>
<circle cx="622.9" cy="93.4" r="2.6"/>
<circle cx="619.5" cy="87.9" r="2.2"/>
<circle cx="614.9" cy="84.8" r="1.8"/>
<circle cx="610.5" cy="83.7" r="1.4"/>
<circle cx="606.7" cy="83.7" r="1.1"/>
<circle cx="603.6" cy="85.2" r="0.8"/>
<circle cx="601.6" cy="87.2" r="0.7"/>
</g>
<text class="thin" transform="translate(476,175) scale(1.1,1)" x="-2 29.6 65.9 94.4" y="0" font-size="49">AQUA</text>
<text class="bold" x="616.5 648 681" y="175" font-size="50">RAY</text>
<text class="bold" style="font-weight:400" x="718.3" y="143" font-size="16.5">®</text>
<text class="thin" x="528.6" y="208" font-size="33" textLength="151.6" lengthAdjust="spacingAndGlyphs">technology</text>
</svg>
</body>
</html>
